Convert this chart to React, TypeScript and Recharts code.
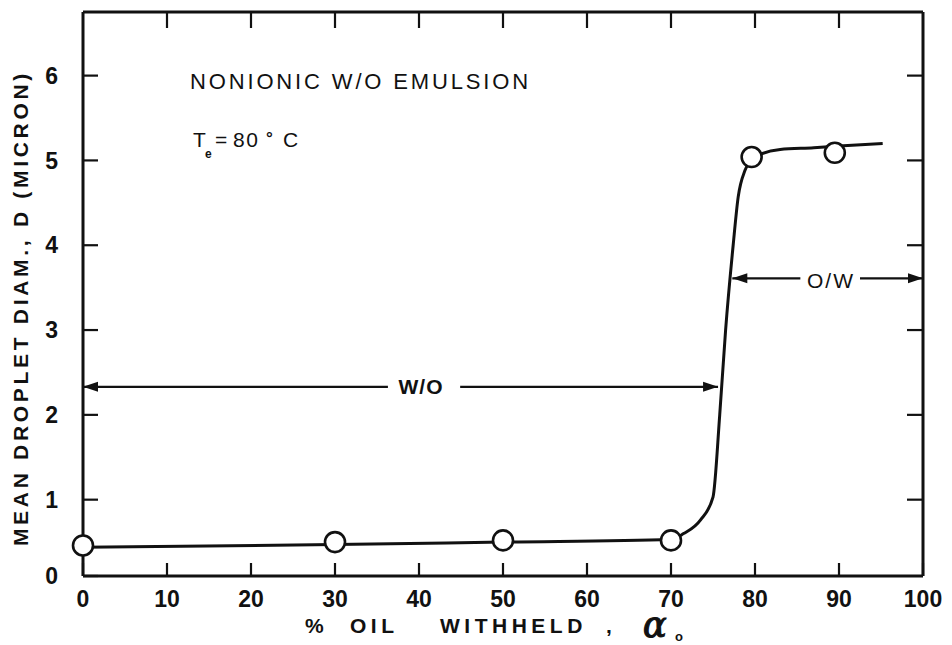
import {
  ComposedChart,
  Line,
  ReferenceLine,
  Scatter,
  XAxis,
  YAxis,
} from "recharts";

// % oil withheld, alpha_0
const xTicks = [0, 10, 20, 30, 40, 50, 60, 70, 80, 90, 100];
const yTicks = [1, 2, 3, 4, 5, 6];
const yLabelTicks = [0.1, 1, 2, 3, 4, 5, 6];

// measured mean droplet diameters (micron)
const measuredX = [0, 30, 50, 70, 79.6, 89.5];
const measuredD = [0.46, 0.5, 0.52, 0.52, 5.04, 5.09];

// hand-drawn fitted curve
const curveX = [0, 30, 50, 70, 71.5, 73.5, 75, 75.8, 76.5, 77.4, 78, 78.8, 80, 83, 87, 90, 95.2];
const curveD = [0.44, 0.47, 0.5, 0.53, 0.6, 0.76, 1.03, 2, 3, 4, 4.57, 4.88, 5.04, 5.13, 5.15, 5.17, 5.2];

// phase region arrows
const woArrow = { from: 0, gapStart: 36.3, gapEnd: 44.9, to: 75.6, d: 2.33 };
const owArrow = { from: 77.3, gapStart: 85.4, gapEnd: 92.5, to: 100, d: 3.61 };

const Y_DOMAIN: [number, number] = [0.1, 6.75];

const measured = measuredX.map((x, i) => ({ x, d: measuredD[i] }));
const curve = curveX.map((x, i) => ({ x, d: curveD[i] }));
const topTickMarks = xTicks.slice(1, -1).map((x) => ({ x, d: Y_DOMAIN[1] }));

const FONT = "'Liberation Sans', Arial, sans-serif";
const INK = "#111";

function arrowShape(headAt: "start" | "end") {
  return (props: any) => {
    const { x1 = 0, y1 = 0, x2 = 0, y2 = 0 } = props;
    const hx = headAt === "start" ? x1 : x2;
    const hy = headAt === "start" ? y1 : y2;
    const dir = headAt === "start" ? 1 : -1;
    return (
      <g>
        <line x1={x1} y1={y1} x2={x2} y2={y2} stroke={INK} strokeWidth={2.2} />
        <polygon
          points={`${hx},${hy} ${hx + dir * 15},${hy - 5} ${hx + dir * 15},${hy + 5}`}
          fill={INK}
        />
      </g>
    );
  };
}

// inward tick hanging from the top frame edge
function TopTick(props: any) {
  const { cx, cy } = props;
  return <line x1={cx} y1={cy} x2={cx} y2={cy + 16} stroke={INK} strokeWidth={2.2} />;
}

// inward tick on the right frame edge
function RightTick(props: any) {
  const { x1 = 0, x2 = 0, y1 = 0 } = props;
  const right = Math.max(x1, x2);
  return <line x1={right - 16} y1={y1} x2={right} y2={y1} stroke={INK} strokeWidth={2.2} />;
}

function Marker(props: any) {
  const { cx, cy } = props;
  return <circle cx={cx} cy={cy} r={10} fill="#fff" stroke={INK} strokeWidth={2.6} />;
}

const tickStyle = { fontFamily: FONT, fontSize: 23, fontWeight: 700, fill: INK };
const tickLineStyle = { stroke: INK, strokeWidth: 2.2 };
const frameStyle = { stroke: INK, strokeWidth: 3 };

export default function App() {
  return (
    <div style={{ position: "absolute", left: 0, top: 0, width: 952, height: 645, background: "#fff" }}>
      <ComposedChart
        width={952}
        height={645}
        margin={{ top: 11, right: 28, bottom: 39, left: 0 }}
      >
        {/* bottom and left: negative tickSize turns the ticks inward */}
        <XAxis
          xAxisId="main"
          type="number"
          dataKey="x"
          domain={[0, 100]}
          ticks={xTicks}
          interval={0}
          tickLine={tickLineStyle}
          tickSize={-13}
          tickMargin={28}
          axisLine={frameStyle}
          tick={tickStyle}
          height={30}
        />
        <XAxis
          xAxisId="top"
          type="number"
          orientation="top"
          height={1}
          domain={[0, 100]}
          tick={false}
          tickLine={false}
          axisLine={frameStyle}
        />
        <YAxis
          yAxisId="main"
          type="number"
          domain={Y_DOMAIN}
          ticks={yLabelTicks}
          interval={0}
          width={83}
          tickLine={tickLineStyle}
          tickSize={-15}
          tickMargin={40}
          tickFormatter={(v: number) => String(Math.round(v))}
          axisLine={frameStyle}
          tick={tickStyle}
          allowDataOverflow
        />
        <YAxis
          yAxisId="right"
          type="number"
          orientation="right"
          width={1}
          domain={Y_DOMAIN}
          tick={false}
          tickLine={false}
          axisLine={frameStyle}
        />

        {yTicks.map((t) => (
          <ReferenceLine key={`right-${t}`} xAxisId="main" yAxisId="main" y={t} shape={RightTick} />
        ))}

        <ReferenceLine
          xAxisId="main"
          yAxisId="main"
          segment={[{ x: woArrow.from, y: woArrow.d }, { x: woArrow.gapStart, y: woArrow.d }]}
          shape={arrowShape("start")}
        />
        <ReferenceLine
          xAxisId="main"
          yAxisId="main"
          segment={[{ x: woArrow.gapEnd, y: woArrow.d }, { x: woArrow.to, y: woArrow.d }]}
          shape={arrowShape("end")}
        />
        <ReferenceLine
          xAxisId="main"
          yAxisId="main"
          segment={[{ x: owArrow.from, y: owArrow.d }, { x: owArrow.gapStart, y: owArrow.d }]}
          shape={arrowShape("start")}
        />
        <ReferenceLine
          xAxisId="main"
          yAxisId="main"
          segment={[{ x: owArrow.gapEnd, y: owArrow.d }, { x: owArrow.to, y: owArrow.d }]}
          shape={arrowShape("end")}
        />

        <Scatter
          xAxisId="main"
          yAxisId="main"
          data={topTickMarks}
          dataKey="d"
          shape={TopTick}
          isAnimationActive={false}
        />
        <Line
          xAxisId="main"
          yAxisId="main"
          data={curve}
          dataKey="d"
          type="monotone"
          stroke={INK}
          strokeWidth={3}
          dot={false}
          activeDot={false}
          isAnimationActive={false}
        />
        <Scatter
          xAxisId="main"
          yAxisId="main"
          data={measured}
          dataKey="d"
          shape={Marker}
          isAnimationActive={false}
        />
      </ComposedChart>

      <svg
        width={952}
        height={645}
        style={{ position: "absolute", left: 0, top: 0, pointerEvents: "none" }}
      >
        <g fontFamily={FONT} fill={INK}>
          <text x={190} y={89} fontSize={22} letterSpacing={2.85}>
            NONIONIC W/O EMULSION
          </text>
          <g fontSize={21}>
            <text x={193} y={147}>T</text>
            <text x={205} y={158} fontSize={12} fontWeight={700}>e</text>
            <text x={215} y={147}>=</text>
            <text x={233} y={147} letterSpacing={1.5}>80</text>
            <text x={266} y={144} fontSize={17} fontWeight={700}>°</text>
            <text x={283} y={147}>C</text>
          </g>
          <text x={421} y={394} fontSize={21} fontWeight={700} textAnchor="middle" letterSpacing={1}>
            W/O
          </text>
          <text x={831} y={288} fontSize={21} textAnchor="middle" letterSpacing={2}>
            O/W
          </text>
          <text
            x={0}
            y={0}
            fontSize={21}
            fontWeight={700}
            letterSpacing={3.7}
            textAnchor="middle"
            transform="translate(28 308) rotate(-90)"
          >
            MEAN DROPLET DIAM., D (MICRON)
          </text>
          <g fontWeight={700} fontSize={21} letterSpacing={4.5}>
            <text x={305} y={633}>%</text>
            <text x={350} y={633}>OIL</text>
            <text x={440} y={633}>WITHHELD</text>
            <text x={606} y={633}>,</text>
            <text
              x={643}
              y={637}
              fontSize={35}
              fontWeight={400}
              fontStyle="italic"
              fontFamily="'DejaVu Serif', serif"
              stroke={INK}
              strokeWidth={1.2}
              letterSpacing={0}
            >
              α
            </text>
            <text x={675} y={641} fontSize={13} letterSpacing={0}>o</text>
          </g>
        </g>
      </svg>
    </div>
  );
}
